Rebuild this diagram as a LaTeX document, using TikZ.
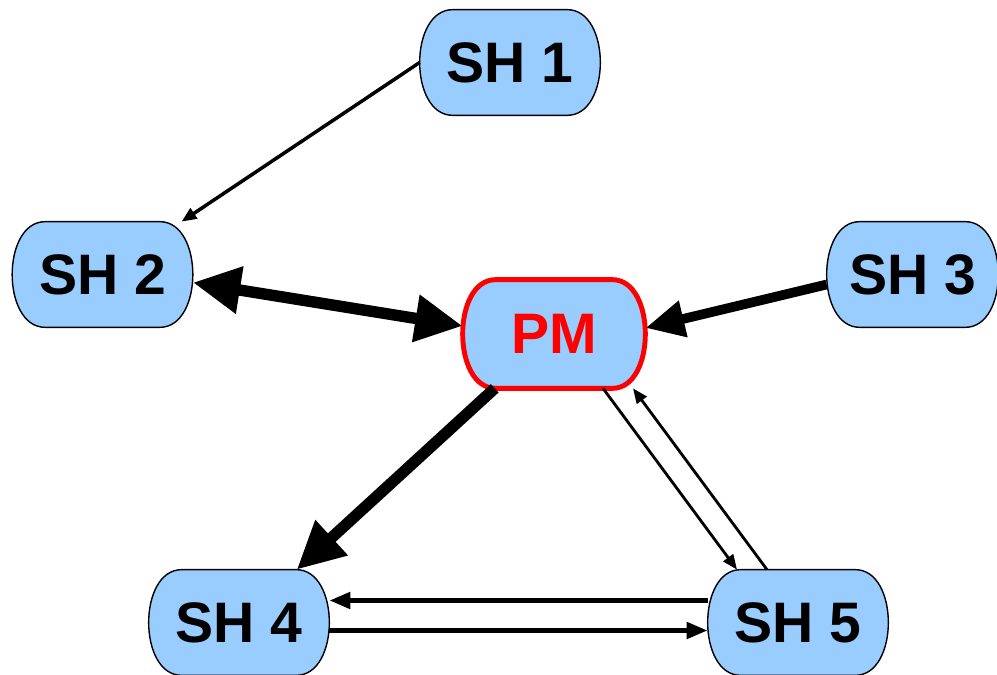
\documentclass[tikz,border=0pt]{standalone}
\usepackage{fontspec}
\setmainfont{Liberation Sans}
\usepackage{xcolor}
\usepackage{tikz}
\usetikzlibrary{arrows.meta,backgrounds}
\definecolor{shblue}{HTML}{99CCFF}

\begin{document}
\begin{tikzpicture}[x=0.02cm,y=-0.02cm,
    shnode/.style={rectangle, minimum width=3.6cm, minimum height=2.1cm,
        inner sep=0pt, font=\fontsize{32.5}{38}\selectfont\bfseries},
    pmnode/.style={shnode, text=red, minimum width=3.64cm, minimum height=2.16cm},
    shoutline/.style={draw, line width=0.8pt, fill=shblue},
    pmoutline/.style={draw=red, line width=2.8pt, fill=shblue},
    heavyarrow/.style={line width=6.5pt, -{Triangle[length=0.95cm,width=0.9cm]}},
    heavydouble/.style={line width=6.5pt,
        {Triangle[length=0.95cm,width=0.9cm]}-{Triangle[length=0.95cm,width=0.9cm]}},
    sidearrow/.style={line width=5.5pt, -{Triangle[length=0.78cm,width=0.7cm]}},
    midarrow/.style={line width=2.8pt, -{Triangle[length=0.42cm,width=0.32cm]}},
    lightarrow/.style={line width=1.6pt, -{Triangle[length=0.3cm,width=0.24cm]}}]
\useasboundingbox (0,0) rectangle (997,675);

\node (sh1) [shnode] at (510,62.5) {SH 1};
\node (sh2) [shnode] at (102.5,274.5) {SH 2};
\node (sh3) [shnode, minimum width=3.42cm] at (912.5,274.5) {SH 3};
\node (pm) [pmnode] at (554,334) {PM};
\node (sh4) [shnode] at (239,622.5) {SH 4};
\node (sh5) [shnode] at (798,622.5) {SH 5};

\begin{scope}[on background layer]
\foreach \n/\look in {sh1/shoutline,sh2/shoutline,sh3/shoutline,sh4/shoutline,sh5/shoutline,pm/pmoutline}
  \path[\look] ([xshift=0.66cm]\n.north west) -- ([xshift=-0.66cm]\n.north east)
    .. controls ([xshift=0.22cm]\n.north east) and ([xshift=0.22cm]\n.south east)
    .. ([xshift=-0.66cm]\n.south east) -- ([xshift=0.66cm]\n.south west)
    .. controls ([xshift=-0.22cm]\n.south west) and ([xshift=-0.22cm]\n.north west)
    .. cycle;
\end{scope}

\draw[lightarrow, line width=2pt] (sh1.west) -- (sh2);
\draw[heavydouble] ([yshift=-0.16cm]sh2.east) -- ([yshift=0.16cm]pm.west);
\draw[sidearrow] ([yshift=-0.2cm]sh3.west) -- ([yshift=0.12cm]pm.east);
\draw[heavyarrow] (pm) -- (sh4);
\draw[lightarrow] ([xshift=0.98cm]pm.south) -- ([xshift=-1.22cm]sh5.north);
\draw[lightarrow] ([xshift=-0.62cm]sh5.north) -- ([xshift=1.58cm]pm.south);
\draw[midarrow] ([yshift=0.44cm]sh5.west) -- ([yshift=0.44cm]sh4.east);
\draw[midarrow] ([yshift=-0.16cm]sh4.east) -- ([yshift=-0.16cm]sh5.west);
\end{tikzpicture}
\end{document}
